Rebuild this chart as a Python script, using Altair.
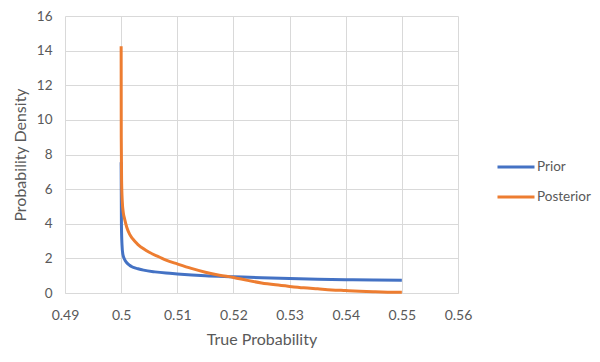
import altair as alt
import pandas as pd

# Values
prior_x = [0.5, 0.50005, 0.50015, 0.5003, 0.5006, 0.501, 0.5015, 0.502, 0.503, 0.504,
           0.506, 0.508, 0.51, 0.515, 0.52, 0.525, 0.53, 0.535, 0.54, 0.545, 0.55]
prior_y = [7.55, 4.0, 2.8, 2.25, 1.95, 1.75, 1.6, 1.5, 1.4, 1.32,
           1.22, 1.15, 1.1, 1.0, 0.94, 0.88, 0.84, 0.8, 0.77, 0.75, 0.73]

post_x = [0.5, 0.50002, 0.50008, 0.5002, 0.5004, 0.5006, 0.501, 0.5015, 0.502, 0.503,
          0.504, 0.505, 0.5068, 0.508, 0.51, 0.5125, 0.515, 0.5175, 0.52, 0.5225,
          0.525, 0.5275, 0.53, 0.5325, 0.535, 0.5375, 0.54, 0.5425, 0.545, 0.5475, 0.55]
post_y = [14.25, 9.0, 6.5, 5.3, 4.6, 4.3, 3.8, 3.4, 3.15, 2.8,
          2.55, 2.35, 2.08, 1.9, 1.68, 1.42, 1.2, 1.03, 0.9, 0.73,
          0.58, 0.47, 0.38, 0.3, 0.24, 0.18, 0.14, 0.1, 0.07, 0.05, 0.04]

series_names = ["Prior", "Posterior"]
series_colors = ["#4472C4", "#ED7D31"]
x_ticks = [0.49, 0.5, 0.51, 0.52, 0.53, 0.54, 0.55, 0.56]
y_ticks = [0, 2, 4, 6, 8, 10, 12, 14, 16]

rows = []
for i, (x, y) in enumerate(zip(prior_x, prior_y)):
    rows.append({"series": "Prior", "x": x, "y": y, "o": i})
for i, (x, y) in enumerate(zip(post_x, post_y)):
    rows.append({"series": "Posterior", "x": x, "y": y, "o": i})
df = pd.DataFrame(rows)

FONT = "Lato"
GREY = "#595959"

chart = alt.Chart(df).mark_line(strokeWidth=3, interpolate="monotone").encode(
    x=alt.X("x:Q", scale=alt.Scale(domain=[0.49, 0.56], nice=False, zero=False),
            axis=alt.Axis(values=x_ticks, format="~g", title="True Probability",
                          grid=True, gridColor="#D9D9D9", domainColor="#D9D9D9",
                          ticks=False, labelPadding=15, labelFontSize=14,
                          labelColor=GREY, labelFont=FONT, titleFont=FONT,
                          titleFontSize=16, titleFontWeight="normal", titleColor=GREY,
                          titlePadding=9, labelFlush=False)),
    y=alt.Y("y:Q", scale=alt.Scale(domain=[0, 16], nice=False),
            axis=alt.Axis(values=y_ticks, title="Probability Density",
                          grid=True, gridColor="#D9D9D9", domain=False,
                          ticks=False, labelPadding=13, labelFontSize=13.5,
                          labelColor=GREY, labelFont=FONT, titleFont=FONT,
                          titleFontSize=16, titleFontWeight="normal", titleColor=GREY,
                          titlePadding=8)),
    color=alt.Color("series:N", scale=alt.Scale(domain=series_names, range=series_colors),
                    legend=alt.Legend(title=None, orient="none", legendX=431, legendY=131,
                                      symbolType="stroke", symbolSize=1369,
                                      symbolStrokeWidth=3, labelFontSize=13.5,
                                      labelFont=FONT, labelColor=GREY, labelOffset=1,
                                      rowPadding=3)),
    order="o:Q",
).properties(
    width=393, height=277,
    autosize=alt.AutoSizeParams(type="none"),
    padding={"left": 57, "top": 8, "right": 134, "bottom": 60},
).configure_view(stroke=None)

chart.save("out.html", embed_options={"renderer": "svg", "actions": False})
